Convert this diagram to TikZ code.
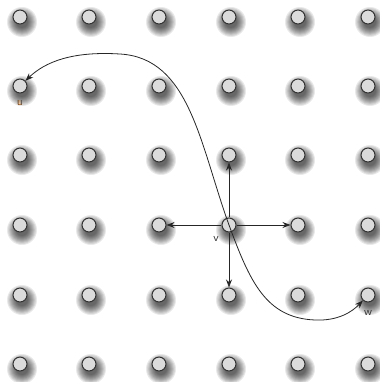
\documentclass[tikz,border=0pt]{standalone}
\usetikzlibrary{arrows.meta}
\begin{document}
\begin{tikzpicture}[x=0.75pt,y=-0.75pt,
  dot/.style={circle,draw=black!80,fill=black!14,line width=0.8pt,minimum size=10.5pt,inner sep=0pt},
  shad/.style={fill=black,opacity=0.085,draw=none},
  lbl/.style={font=\sffamily\fontsize{8.5}{8.5}\selectfont,inner sep=0pt},
  arr/.style={-{Stealth[length=6pt,width=4.5pt]},line width=0.6pt,black!85}]
\useasboundingbox (0,0) rectangle (379,382);
\foreach \x in {20,89,159,229,298,368}{
  \foreach \y in {17,86,155,225,295,364}{
    \foreach \r in {15,14,...,6}{
      \fill[shad] (\x+2,\y+5) circle[radius=\r];
    }
  }
}
\foreach \i/\x in {0/20,1/89,2/159,3/229,4/298,5/368}{
  \foreach \j/\y in {0/17,1/86,2/155,3/225,4/295,5/364}{
    \node[dot] (n\i\j) at (\x,\y) {};
  }
}
\node[lbl,text=orange!55!black] at (20,103) {u};
\node[lbl,text=black!80] at (216,239) {v};
\node[lbl,text=black!80] at (368,313) {w};
\draw[arr] (n33) -- (n23);
\draw[arr] (n33) -- (n43);
\draw[arr] (n33) -- (n32);
\draw[arr] (n33) -- (n34);
\draw[arr] (n33.center) .. controls (200,145) and (190,58) .. (120,54) .. controls (72,51) and (45,62) .. (n01);
\draw[arr] (n33.center) .. controls (250,282) and (266,318) .. (315,320) .. controls (338,321) and (352,312) .. (n54);
\end{tikzpicture}
\end{document}
